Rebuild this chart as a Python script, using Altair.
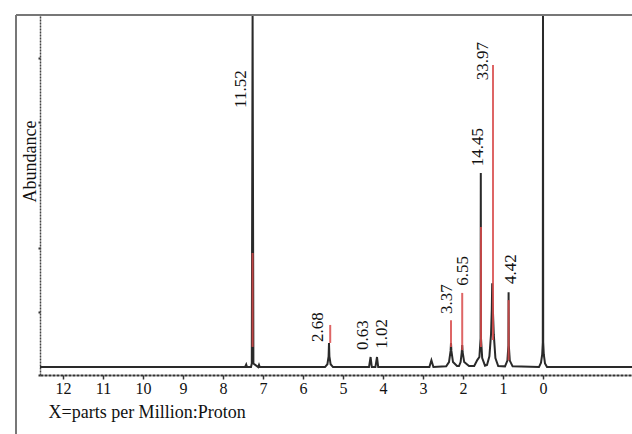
import altair as alt
import pandas as pd

# ---- spectrum trace (ppm, relative intensity) ----
trace_ppm = [12.575, 7.45, 7.42, 7.40, 7.30, 7.28, 7.26, 7.24, 7.12, 7.10, 7.08,
             5.45, 5.39, 5.36, 5.35, 5.34, 5.31, 5.25,
             4.35, 4.31, 4.28, 4.19, 4.15, 4.12,
             2.84, 2.79, 2.74,
             2.42, 2.35, 2.31, 2.30, 2.29, 2.25, 2.15,
             2.10, 2.06, 2.03, 2.02, 2.01, 1.97, 1.85,
             1.72, 1.64, 1.59, 1.56, 1.555, 1.55, 1.52, 1.45,
             1.40, 1.34, 1.30, 1.28, 1.27, 1.26, 1.23, 1.19, 1.12,
             0.95, 0.89, 0.865, 0.86, 0.855, 0.83, 0.76,
             0.10, 0.05, 0.02, 0.005, 0.0, -0.005, -0.02, -0.05, -0.10,
             -2.225]
trace_int = [0, 0, 0.7, 0, 0, 1.0, 97.8, 1.0, 0, 0.6, 0,
             0, 0.8, 3.0, 6.7, 3.0, 0.8, 0,
             0, 2.8, 0, 0, 2.8, 0,
             0, 1.9, 0,
             0.2, 1.4, 4.5, 6.7, 4.5, 1.4, 0.3,
             0.3, 1.4, 4.2, 6.1, 4.2, 1.4, 0.3,
             0.3, 2.0, 2.8, 8.0, 53.9, 8.0, 2.5, 0.4,
             0.6, 3.0, 9.0, 16.0, 23.3, 18.0, 9.0, 2.5, 0.3,
             0.2, 1.8, 6.0, 20.8, 6.0, 1.8, 0.2,
             0, 1.2, 3.5, 6.9, 97.8, 6.9, 3.5, 1.0, 0,
             0]

# ---- red integration segments ----
int_ppm = [7.26, 5.32, 2.30, 2.02, 1.55, 1.25, 0.86]
int_lo = [5.6, 6.7, 5.6, 4.7, 5.6, 7.5, 1.9]
int_hi = [31.7, 11.7, 13.0, 20.6, 38.9, 83.9, 18.6]

# ---- integral labels ----
lab_text = ["11.52", "2.68", "0.63", "1.02", "3.37", "6.55", "14.45", "33.97", "4.42"]
lab_ppm = [7.55, 5.625, 4.5, 4.025, 2.4, 2.0, 1.625, 1.5, 0.8]
lab_int = [77.2, 11.1, 8.9, 9.2, 18.9, 26.7, 61.1, 85.0, 27.2]

tick_ppm = list(range(0, 13))

trace = pd.DataFrame({"ppm": trace_ppm, "inten": trace_int,
                      "order": list(range(len(trace_ppm)))})
integ = pd.DataFrame({"ppm": int_ppm, "lo": int_lo, "hi": int_hi})
labels = pd.DataFrame({"ppm": lab_ppm, "inten": lab_int, "text": lab_text})

FONT = "Liberation Serif"
xscale = alt.Scale(domain=[12.575, -2.225], nice=False, zero=False)
yscale = alt.Scale(domain=[-2.2, 97.8], nice=False, zero=False)

yticks = [round(-2.2 + 2.2 * i, 2) for i in range(46)]

xaxis = alt.Axis(values=tick_ppm, title="X=parts per Million:Proton",
                 titleFont=FONT, titleFontSize=18, titleFontWeight="normal",
                 titleColor="#111", titleX=8, titleY=42, titleAlign="left",
                 titleBaseline="alphabetic", titleAnchor="start",
                 labelFont=FONT, labelFontSize=16, labelColor="#111",
                 labelPadding=1, tickSize=4, tickColor="#333", tickWidth=1.5,
                 domainColor="#333", domainWidth=2, domainDash=[3, 1],
                 grid=False)
yaxis = alt.Axis(values=yticks, labels=False, title="Abundance",
                 titleFont=FONT, titleFontSize=18, titleFontWeight="normal",
                 titleColor="#111", titleX=-5, titleY=146, titleAngle=270,
                 titleAlign="center", titleBaseline="alphabetic",
                 tickSize=2, tickWidth=2, tickColor="#333",
                 domainColor="#444", domainWidth=1.5, domainDash=[2, 1],
                 grid=False)

line = alt.Chart(trace).mark_line(color="#2a2a2a", strokeWidth=2).encode(
    x=alt.X("ppm:Q", scale=xscale, axis=xaxis),
    y=alt.Y("inten:Q", scale=yscale, axis=yaxis),
    order="order:Q",
)

red = alt.Chart(integ).mark_rule(color="#d84a4a", strokeWidth=2, opacity=0.85).encode(
    x=alt.X("ppm:Q", scale=xscale),
    y=alt.Y("lo:Q", scale=yscale),
    y2="hi:Q",
)

text = alt.Chart(labels).mark_text(angle=270, align="center", baseline="middle",
                                   font=FONT, fontSize=17, color="#111").encode(
    x=alt.X("ppm:Q", scale=xscale),
    y=alt.Y("inten:Q", scale=yscale),
    text="text:N",
)

frame_data = alt.Data(values=[{"k": 1}])
top_rule = alt.Chart(frame_data).mark_rule(color="#777", strokeWidth=2).encode(
    x=alt.value(-24), x2=alt.value(592), y=alt.value(0))
left_rule = alt.Chart(frame_data).mark_rule(color="#777", strokeWidth=2).encode(
    x=alt.value(-24), y=alt.value(0), y2=alt.value(419))

chart = alt.layer(line, red, text, top_rule, left_rule).properties(
    width=592, height=360,
    padding={"left": 40, "top": 15, "right": 0, "bottom": 59},
    autosize=alt.AutoSizeParams(type="none"),
).configure_view(stroke=None).configure(background="white")

chart.save("out.html", embed_options={"renderer": "svg", "actions": False})
